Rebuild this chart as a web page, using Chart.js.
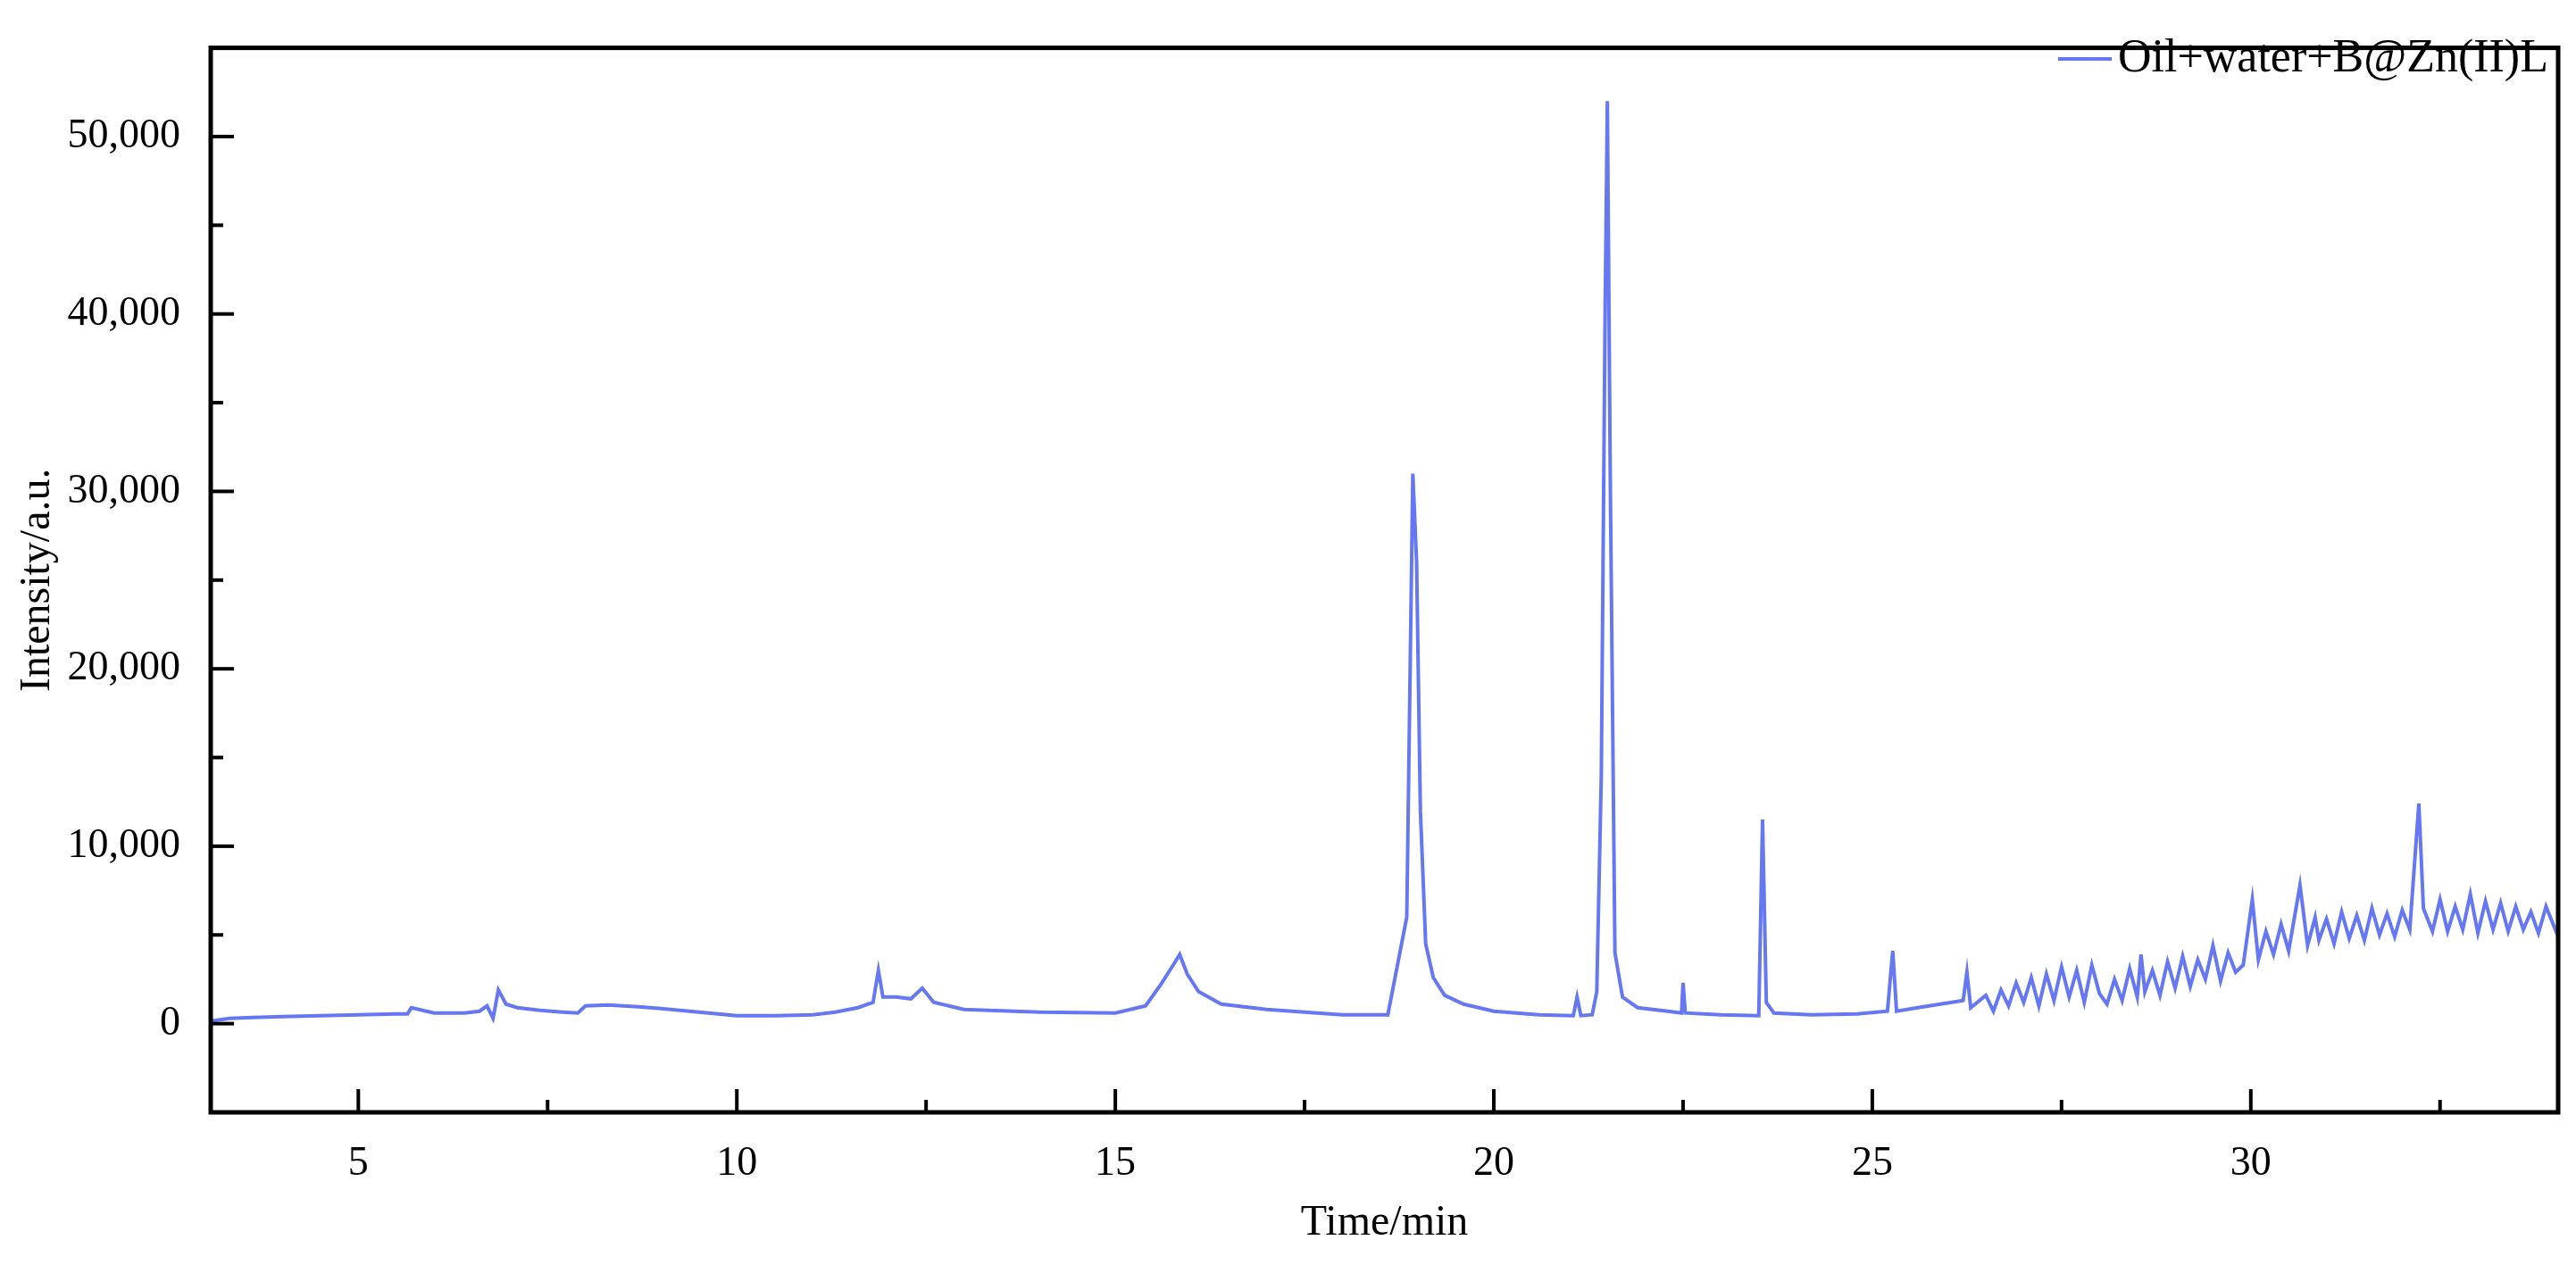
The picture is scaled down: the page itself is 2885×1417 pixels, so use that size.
<!DOCTYPE html>
<html>
<head>
<meta charset="utf-8">
<script src="https://cdn.jsdelivr.net/npm/chart.js@4"></script>
<style>
  html, body { margin: 0; padding: 0; background: #fff; }
  #wrap { width: 2885px; height: 1417px; }
</style>
</head>
<body>
<div id="wrap"><canvas id="gc"></canvas></div>
<script>
const seriesName = "Oil+water+B@Zn(II)L";
const times = [
  3.05, 3.3, 3.6, 4.0, 4.5, 5.0, 5.5, 5.65, 5.7, 6.0, 6.4, 6.6, 6.7, 6.78, 6.85, 6.95, 7.1, 7.4, 7.7, 7.9, 8.0,
  8.3, 8.7, 9.0, 9.5, 10.0, 10.5, 11.0, 11.3, 11.6, 11.8, 11.87, 11.93, 12.1, 12.3, 12.45, 12.6, 13.0, 14.0,
  15.0, 15.4, 15.6, 15.75, 15.85, 15.95, 16.1, 16.4, 17.0, 18.0, 18.6, 18.85, 18.93, 18.98, 19.03, 19.1, 19.2,
  19.35, 19.6, 20.0, 20.6, 21.05, 21.1, 21.15, 21.3, 21.36, 21.42, 21.47, 21.5, 21.54, 21.6, 21.7, 21.9, 22.3,
  22.48, 22.5, 22.53, 23.0, 23.5, 23.55, 23.6, 23.7, 24.2, 24.8, 25.2, 25.27, 25.32, 25.6, 25.9, 26.2, 26.25,
  26.3, 26.5, 26.6, 26.7, 26.8, 26.9, 27.0, 27.1, 27.2, 27.3, 27.4, 27.5, 27.6, 27.7, 27.8, 27.9, 28.0, 28.1,
  28.2, 28.3, 28.4, 28.5, 28.55, 28.6, 28.7, 28.8, 28.9, 29.0, 29.1, 29.2, 29.3, 29.4, 29.5, 29.6, 29.7, 29.8,
  29.9, 30.02, 30.1, 30.2, 30.3, 30.4, 30.5, 30.65, 30.75, 30.85, 30.9, 31.0, 31.1, 31.2, 31.3, 31.4, 31.5,
  31.6, 31.7, 31.8, 31.9, 32.0, 32.1, 32.22, 32.28, 32.4, 32.5, 32.6, 32.7, 32.8, 32.9, 33.0, 33.1, 33.2,
  33.3, 33.4, 33.5, 33.6, 33.7, 33.8, 33.9, 34.06
];
const intensity = [
  150, 300, 350, 400, 450, 500, 550, 550, 900, 600, 600, 700, 1000, 300, 1900, 1100, 900, 750, 650, 600, 1000,
  1050, 950, 850, 650, 450, 450, 500, 650, 900, 1200, 3000, 1500, 1500, 1400, 2000, 1200, 800, 650,
  600, 1000, 2200, 3200, 3900, 2800, 1800, 1100, 800, 500, 500, 6000, 31000, 26000, 12000, 4500, 2600,
  1600, 1100, 700, 500, 450, 1500, 450, 500, 1800, 14000, 40000, 52000, 30000, 4000, 1500, 900, 700,
  600, 2300, 600, 500, 450, 11500, 1200, 600, 500, 550, 700, 4100, 700, 900, 1100, 1300, 2900,
  900, 1600, 700, 1900, 1000, 2300, 1200, 2600, 1000, 2800, 1300, 3200, 1500, 3000, 1200, 3300, 1700, 1100,
  2500, 1300, 3100, 1500, 3900, 1800, 3000, 1600, 3500, 2000, 3800, 2100, 3600, 2500, 4400, 2400, 4000, 2900,
  3300, 7000, 3600, 5200, 3900, 5600, 4100, 7800, 4400, 6000, 4700, 5900, 4500, 6300, 4800, 6100, 4700,
  6500, 5000, 6200, 4900, 6400, 5300, 12400, 6500, 5200, 7000, 5200, 6600, 5300, 7300, 5100, 6900, 5300, 6800,
  5200, 6600, 5300, 6300, 5100, 6600, 4900, 5600
];
const xTicks = [5, 10, 15, 20, 25, 30];
const yTicks = [0, 10000, 20000, 30000, 40000, 50000];

const serif = "'Liberation Serif', 'DejaVu Serif', serif";
const lineColor = "#6677f2";

// full-frame border, inward ticks and the legend
const frame = {
  id: "frame",
  afterDraw(c) {
    const { ctx, chartArea: a, scales } = c;
    ctx.save();
    ctx.strokeStyle = "#000";
    ctx.lineWidth = 5;
    ctx.strokeRect(a.left, a.top, a.right - a.left, a.bottom - a.top);
    ctx.lineWidth = 4;
    for (let v = 5; v < 34; v += 2.5) {
      const px = scales.x.getPixelForValue(v);
      const len = v % 5 === 0 ? 26 : 14;
      ctx.beginPath(); ctx.moveTo(px, a.bottom); ctx.lineTo(px, a.bottom - len); ctx.stroke();
    }
    for (let v = -5000; v < 55000; v += 5000) {
      const py = scales.y.getPixelForValue(v);
      const len = v % 10000 === 0 ? 26 : 14;
      ctx.beginPath(); ctx.moveTo(a.left, py); ctx.lineTo(a.left + len, py); ctx.stroke();
    }
    // legend
    ctx.strokeStyle = lineColor;
    ctx.lineWidth = 4;
    ctx.beginPath(); ctx.moveTo(2305, 66); ctx.lineTo(2365, 66); ctx.stroke();
    ctx.fillStyle = "#000";
    ctx.font = "52px " + serif;
    ctx.textBaseline = "middle";
    ctx.fillText(seriesName, 2372, 66);
    ctx.restore();
  }
};

new Chart(document.getElementById("gc"), {
  type: "line",
  data: {
    datasets: [{
      label: seriesName,
      data: times.map((t, i) => ({ x: t, y: intensity[i] })),
      borderColor: lineColor,
      backgroundColor: lineColor,
      borderWidth: 4,
      pointRadius: 0,
      tension: 0
    }]
  },
  options: {
    responsive: true,
    maintainAspectRatio: false,
    animation: false,
    layout: { padding: { top: 28, right: 20, left: 10, bottom: 14 } },
    plugins: {
      legend: { display: false },
      tooltip: { enabled: false }
    },
    scales: {
      x: {
        type: "linear",
        min: 3.05, max: 34.06,
        afterBuildTicks: s => { s.ticks = xTicks.map(v => ({ value: v })); },
        afterFit: s => { s.height = 157; },
        grid: { display: false },
        border: { display: false },
        ticks: { font: { family: serif, size: 46 }, color: "#000", padding: 22 },
        title: { display: true, text: "Time/min", font: { family: serif, size: 48 }, color: "#000", padding: { top: 20 } }
      },
      y: {
        min: -5000, max: 55000,
        afterBuildTicks: s => { s.ticks = yTicks.map(v => ({ value: v })); },
        afterFit: s => { s.width = 226; },
        grid: { display: false },
        border: { display: false },
        ticks: {
          font: { family: serif, size: 46 }, color: "#000", padding: 26,
          callback: v => v.toLocaleString("en-US")
        },
        title: { display: true, text: "Intensity/a.u.", font: { family: serif, size: 48 }, color: "#000" }
      }
    }
  },
  plugins: [frame]
});
</script>
</body>
</html>
